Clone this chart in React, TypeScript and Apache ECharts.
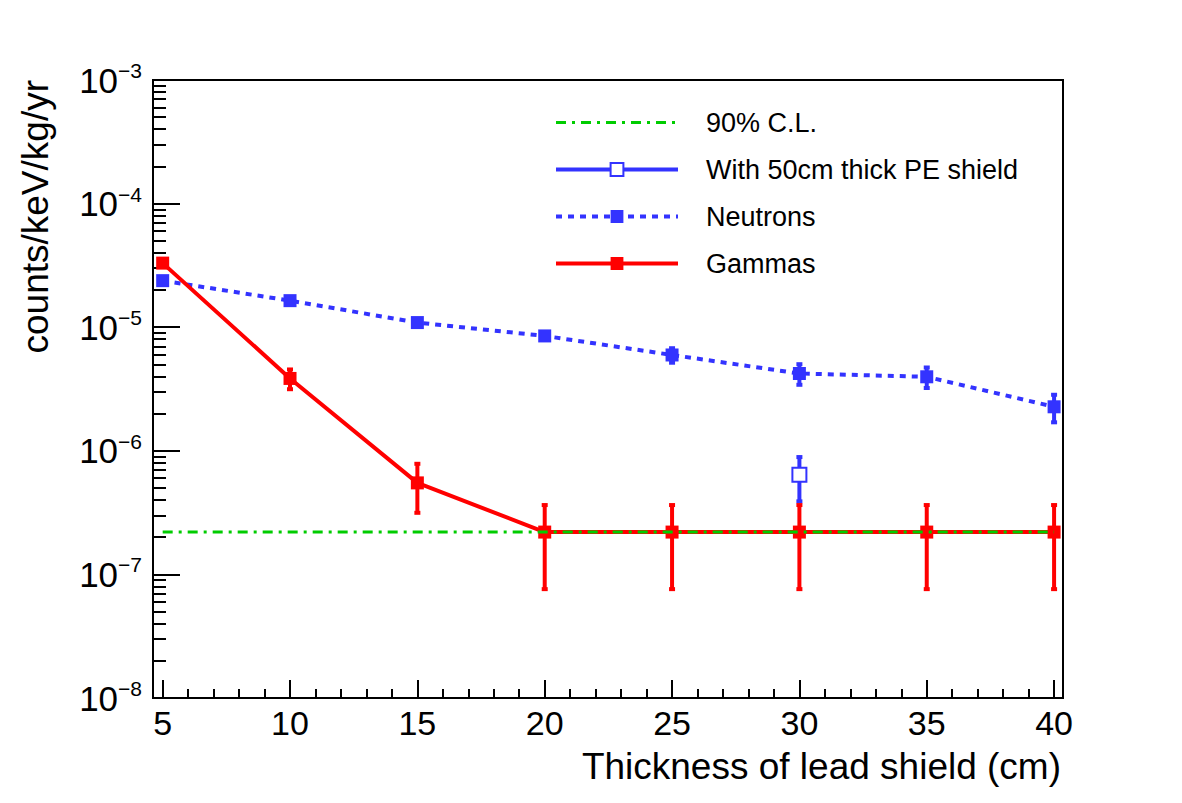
import React, { useEffect, useRef } from "react";
import * as echarts from "echarts";

// Lead-shield thickness (cm) at which the background was simulated
const thickness = [5, 10, 15, 20, 25, 30, 35, 40];

// Gamma background rate (counts/keV/kg/yr) and its uncertainty
const gammaRate = [3.3e-5, 3.85e-6, 5.5e-7, 2.2e-7, 2.2e-7, 2.2e-7, 2.2e-7, 2.2e-7];
const gammaErr = [0.8e-6, 0.7e-6, 2.35e-7, 1.44e-7, 1.44e-7, 1.44e-7, 1.44e-7, 1.44e-7];

// Neutron background rate and its uncertainty
const neutronRate = [2.38e-5, 1.64e-5, 1.09e-5, 8.5e-6, 5.96e-6, 4.22e-6, 3.97e-6, 2.27e-6];
const neutronErr = [0.6e-6, 0.5e-6, 0.45e-6, 0.5e-6, 0.8e-6, 0.8e-6, 0.75e-6, 0.57e-6];

// Neutron rate with an additional 50 cm polyethylene shield
const peThickness = [30];
const peRate = [6.4e-7];
const peErr = [2.5e-7];

// 90% confidence-level limit, drawn across the thickness range
const clLimit = 2.2e-7;
const clRange = [5, 40];

// Axis ticks
const xMajorTicks = [5, 10, 15, 20, 25, 30, 35, 40];
const xMinorTicks = [6, 7, 8, 9, 11, 12, 13, 14, 16, 17, 18, 19, 21, 22, 23, 24, 26, 27, 28, 29, 31, 32, 33, 34, 36, 37, 38, 39];
const yDecades = [1e-8, 1e-7, 1e-6, 1e-5, 1e-4, 1e-3];
const yMantissas = [2, 3, 4, 5, 6, 7, 8, 9];

const FONT = "'Liberation Sans', Arial, Helvetica, sans-serif";
const BLUE = "#3333ff";
const RED = "#ff0000";
const GREEN = "#00cc00";

const yMinorTicks: number[] = [];
yDecades.slice(0, -1).forEach((d) => yMantissas.forEach((m) => yMinorTicks.push(m * d)));

function errorBars(name: string, xs: number[], ys: number[], es: number[], color: string) {
  return {
    type: "custom",
    name,
    silent: true,
    z: 1,
    encode: { x: 0, y: 1 },
    data: xs.map((x, i) => [x, ys[i], es[i]]),
    renderItem: (_params: any, api: any) => {
      const x = api.value(0);
      const y = api.value(1);
      const e = api.value(2);
      const top = api.coord([x, y + e]);
      const bot = api.coord([x, y - e]);
      return {
        type: "group",
        children: [
          { type: "line", shape: { x1: top[0], y1: top[1], x2: bot[0], y2: bot[1] }, style: { stroke: color, lineWidth: 4 } },
          { type: "rect", shape: { x: top[0] - 3, y: top[1] - 2, width: 6, height: 4 }, style: { fill: color } },
          { type: "rect", shape: { x: bot[0] - 3, y: bot[1] - 2, width: 6, height: 4 }, style: { fill: color } },
        ],
      };
    },
  };
}

export default function App() {
  const ref = useRef<HTMLDivElement>(null);

  useEffect(() => {
    if (!ref.current) return;
    const chart = echarts.init(ref.current, undefined, { renderer: "svg" });

    const xBase = { type: "value", min: 4.62, max: 40.35, gridIndex: 0, position: "bottom" };
    const yBase = { type: "log", logBase: 10, min: 1e-8, max: 1e-3, gridIndex: 0, position: "left" };

    const option: any = {
      animation: false,
      backgroundColor: "#ffffff",
      textStyle: { fontFamily: FONT },
      grid: {
        left: 153,
        top: 80,
        right: 119,
        bottom: 105,
        show: true,
        borderColor: "#000",
        borderWidth: 2,
        containLabel: false,
        outerBoundsMode: "none",
      },
      legend: {
        data: ["90% C.L.", "With 50cm thick PE shield", "Neutrons", "Gammas"],
        orient: "vertical",
        left: 549,
        top: 104,
        itemWidth: 122,
        itemHeight: 16,
        itemGap: 20,
        selectedMode: false,
        textStyle: { fontSize: 27, color: "#000", fontFamily: FONT, padding: [0, 0, 0, 23] },
        lineStyle: { width: "inherit" },
      },
      xAxis: [
        {
          ...xBase,
          name: "Thickness of lead shield (cm)",
          nameLocation: "end",
          nameGap: -2,
          nameMoveOverlap: false,
          nameTextStyle: {
            fontSize: 37,
            color: "#000",
            fontFamily: FONT,
            align: "right",
            verticalAlign: "top",
            padding: [50, 0, 0, 0],
          },
          axisLine: { show: true, onZero: false, lineStyle: { color: "#000", width: 2 } },
          axisTick: { show: true, inside: true, length: 18, lineStyle: { color: "#000", width: 2 }, customValues: xMajorTicks },
          axisLabel: { show: true, fontSize: 34, color: "#000", fontFamily: FONT, margin: 8, customValues: xMajorTicks },
          splitLine: { show: false },
        },
        {
          ...xBase,
          axisLine: { show: false },
          axisTick: { show: true, inside: true, length: 9, lineStyle: { color: "#000", width: 2 }, customValues: xMinorTicks },
          axisLabel: { show: false },
          splitLine: { show: false },
        },
      ],
      yAxis: [
        {
          ...yBase,
          name: "counts/keV/kg/yr",
          nameLocation: "end",
          nameRotate: 90,
          nameGap: 0,
          nameMoveOverlap: false,
          nameTextStyle: {
            fontSize: 37,
            color: "#000",
            fontFamily: FONT,
            align: "right",
            verticalAlign: "bottom",
            padding: [0, 0, 99, 0],
          },
          axisLine: { show: true, onZero: false, lineStyle: { color: "#000", width: 2 } },
          axisTick: { show: true, inside: true, length: 27, lineStyle: { color: "#000", width: 2 }, customValues: yDecades },
          axisLabel: {
            show: true,
            margin: 11,
            customValues: yDecades,
            formatter: (v: number) => `{b|10}{e|\u2212${Math.abs(Math.round(Math.log10(v)))}}`,
            rich: {
              b: { fontSize: 35, color: "#000", fontFamily: FONT, lineHeight: 40 },
              e: { fontSize: 21, color: "#000", fontFamily: FONT, lineHeight: 22, verticalAlign: "top" },
            },
          },
          splitLine: { show: false },
        },
        {
          ...yBase,
          axisLine: { show: false },
          axisTick: { show: true, inside: true, length: 13, lineStyle: { color: "#000", width: 2 }, customValues: yMinorTicks },
          axisLabel: { show: false },
          splitLine: { show: false },
        },
      ],
      series: [
        errorBars("Neutrons error", thickness, neutronRate, neutronErr, BLUE),
        errorBars("PE error", peThickness, peRate, peErr, BLUE),
        errorBars("Gammas error", thickness, gammaRate, gammaErr, RED),
        {
          type: "line",
          name: "Neutrons",
          data: thickness.map((x, i) => [x, neutronRate[i]]),
          symbol: "rect",
          symbolSize: 13,
          showAllSymbol: true,
          itemStyle: { color: BLUE },
          lineStyle: { color: BLUE, width: 4, type: [6, 6] },
          z: 3,
        },
        {
          type: "line",
          name: "With 50cm thick PE shield",
          data: peThickness.map((x, i) => [x, peRate[i]]),
          symbol: "rect",
          symbolSize: 14,
          itemStyle: { color: "#ffffff", borderColor: BLUE, borderWidth: 2 },
          lineStyle: { color: BLUE, width: 4, type: "solid" },
          z: 3,
        },
        {
          type: "line",
          name: "Gammas",
          data: thickness.map((x, i) => [x, gammaRate[i]]),
          symbol: "rect",
          symbolSize: 13,
          showAllSymbol: true,
          itemStyle: { color: RED },
          lineStyle: { color: RED, width: 4, type: "solid" },
          z: 3,
        },
        {
          type: "line",
          name: "90% C.L.",
          data: clRange.map((x) => [x, clLimit]),
          symbol: "none",
          itemStyle: { color: "rgba(0,0,0,0)", borderWidth: 0 },
          lineStyle: { color: GREEN, width: 3, type: [10, 6, 3, 6] },
          z: 4,
        },
      ],
    };

    chart.setOption(option);
    return () => chart.dispose();
  }, []);

  return <div ref={ref} style={{ position: "absolute", left: 0, top: 0, width: 1182, height: 803 }} />;
}
